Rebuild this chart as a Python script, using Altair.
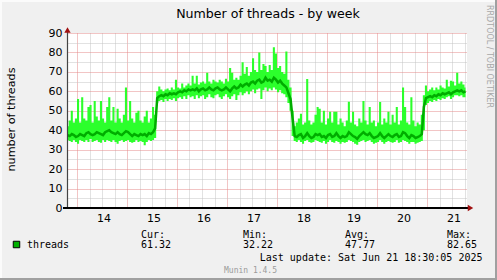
import altair as alt
import pandas as pd

# ---------------- data (hourly samples, first one Jun 13 19:30; hours counted from Jun 13 00:00)
first_hour = 19.5

avg_a = [37.5, 37, 38, 37.5, 36.5, 37, 38, 37.5, 37, 38.5,
         39, 38, 37.5, 38, 39, 38.5, 38, 37.5, 39, 39.5,
         40, 39, 38.5, 38, 39, 38, 37.5, 38.5, 39.5, 39,
         38, 37, 38, 37.5, 37, 38, 37.5, 38, 37, 38.5,
         38, 39, 41]
hi_a = [42, 45, 50, 44, 46, 56, 44, 57, 46, 45,
        52, 53, 44, 55, 47, 45, 55, 46, 44, 52,
        57, 45, 52, 44, 51, 46, 44, 48, 62, 45,
        55, 46, 44, 49, 50, 45, 44, 47, 50, 44,
        46, 52, 48]
lo_a = [35, 34.5, 34, 35, 34, 33, 35, 34.5, 34, 35,
        34, 35.5, 34, 34.5, 35, 34, 33.5, 35, 34, 35,
        34.5, 34, 35, 34, 33, 34.5, 35, 34, 34.5, 35,
        34, 33.5, 34, 35, 34, 34.5, 34, 32.22, 34, 35,
        34.5, 35, 36]

avg_b = [56.5, 57.5, 58, 57.5, 58.5, 58, 59, 58.5, 59, 58.5,
         59.5, 60, 59.5, 60.5, 60, 61, 60.5, 61, 60.5, 61.5,
         60, 61, 61.5, 60.5, 61, 62, 61, 60.5, 61.5, 62,
         61, 60.5, 61, 62, 61, 60, 61.5, 62.5, 61.5, 62,
         63.5, 62.5, 63.5, 64, 63, 64.5, 65, 64, 65.5, 66,
         64.5, 65, 67, 65.5, 66, 65, 67, 66, 64.5, 65.5,
         64, 63, 62, 59, 56, 46]
hi_b = [60, 62.5, 61, 60, 61, 61.5, 60.5, 62, 61, 66,
        62, 61.5, 64, 62, 63, 64, 63, 68, 64, 68,
        63.5, 64.5, 65, 64, 69.5, 65, 64, 66, 65, 64.5,
        66, 65, 64, 66.5, 65, 72, 69.5, 66, 67, 66,
        68, 75, 69, 72.5, 68, 70, 77, 71, 70, 80,
        71, 74, 73, 70, 73.5, 71, 82.65, 79.5, 72, 73,
        70, 69, 80.5, 66, 62, 50]
lo_b = [54, 55, 55.5, 54.5, 56, 55, 56, 55.5, 56.5, 55,
        56.5, 57, 56, 57.5, 56, 58, 57, 57.5, 56, 58,
        56.5, 57.5, 58, 56, 57, 58.5, 57, 56.5, 58, 58.5,
        57, 56, 57.5, 58.5, 57, 56, 57.5, 58.5, 55.5, 58,
        59.5, 58, 59, 60, 58.5, 60, 61, 59, 61, 61.5,
        56, 60.5, 62, 60, 61.5, 60.5, 62, 61, 59.5, 60.5,
        59, 58.5, 57, 54, 50, 37]

avg_c = [37, 36.5, 37.5, 38, 36, 37, 38.5, 37, 36, 36.5,
         38, 37.5, 38, 36.5, 37, 36, 37.5, 38, 36.5, 37,
         38.5, 37, 36, 37, 36.5, 37, 39, 38, 37, 36.5,
         35.5, 37, 38, 39, 38, 37.5, 38.5, 37, 36, 36.5,
         37, 38.5, 37, 36, 37, 38, 37, 36.5, 37.5, 38,
         36.5, 37, 39, 38.5, 37, 36, 37.5, 37, 36, 36.5,
         37, 38]
hi_c = [42, 44, 46, 48.5, 43, 44, 66.4, 45, 43, 44,
        48, 52, 51, 44, 50, 43, 46, 49.5, 44, 49.5,
        49.5, 43, 46, 44, 42, 45, 54.7, 44, 49.5, 43,
        42, 46, 44, 55, 45, 43, 52, 44, 45, 42,
        44, 54.5, 43, 46, 44, 49.5, 43, 48, 44, 52,
        43, 45, 62, 52, 44, 43, 57, 45, 42, 44,
        43, 48]
lo_c = [34.5, 34, 35, 34, 33, 34.5, 35, 34, 33.5, 34,
        35, 34.5, 34, 33.5, 34.5, 33, 34, 35, 34, 33.5,
        34.5, 34, 33, 34, 33.5, 34, 35, 34.5, 34, 33,
        32.5, 34, 34.5, 35, 34, 34.5, 35, 34, 33, 33.5,
        34, 35, 34, 33, 34, 34.5, 34, 33.5, 34, 35,
        33.5, 34, 35, 34.5, 34, 33, 34, 34, 33, 33.5,
        34, 34.5]

avg_d = [52, 56.5, 57, 57.5, 57, 58, 57.5, 58.5, 58, 59,
         58.5, 59, 59.5, 58.5, 59.5, 60, 60.5, 60, 60.5, 59.5, 60]
hi_d = [58, 63, 60, 61, 62, 60.5, 62, 61, 63, 62,
        61.5, 66, 62.5, 65.5, 65, 63, 69.5, 64, 65, 63.5, 62]
lo_d = [40, 53, 54, 55, 54.5, 55.5, 55, 56, 55.5, 56.5,
        56, 57, 57.5, 56, 57, 58, 58, 57.5, 58, 57, 57]

# axis / grid positions (hours since Jun 13 00:00)
x_domain = [19.2, 211.2]
x_grid_hours = list(range(24, 211, 6))      # every 6 h, midnight = major
y_grid_values = list(range(0, 91, 5))        # every 5, multiples of 10 = major

series_name = "threads"
stat_names = ["Cur:", "Min:", "Avg:", "Max:"]
stat_values = ["61.32", "32.22", "47.77", "82.65"]
last_update = "Last update: Sat Jun 21 18:30:05 2025"
title_text = "Number of threads - by week"
y_title = "number of threads"
side_text = "RRDTOOL / TOBI OETIKER"
footer_text = "Munin 1.4.5"

avg = avg_a + avg_b + avg_c + avg_d
hi = hi_a + hi_b + hi_c + hi_d
lo = lo_a + lo_b + lo_c + lo_d
n = min(len(avg), len(hi), len(lo))
df = pd.DataFrame({
    "hour": [first_hour + k for k in range(n)],
    "avg": avg[:n], "lo": lo[:n], "hi": hi[:n],
})

W, H = 400, 175
xs = alt.Scale(domain=x_domain, nice=False, zero=False)
ys = alt.Scale(domain=[0, 90], nice=False)

minor_col = "#c4c4c4"
major_col = "#e58a8a"

x_axis = alt.Axis(
    values=x_grid_hours,
    labelExpr="datum.value % 24 == 12 ? '' + (floor(datum.value/24) + 13) : ''",
    title=None, grid=True, gridDash=[1, 1], gridWidth=1,
    gridColor=alt.condition("datum.value % 24 == 0", alt.value(major_col), alt.value(minor_col)),
    ticks=False, domain=False, labelFont="DejaVu Sans", labelFontSize=11,
    labelColor="#000", labelPadding=4, labelOffset=1.5, labelFlush=False, labelOverlap=False)
y_axis = alt.Axis(
    values=y_grid_values,
    labelExpr="datum.value % 10 == 0 ? datum.label : ''",
    title=None, grid=True, gridDash=[1, 1], gridWidth=1,
    gridColor=alt.condition("datum.value % 10 == 0", alt.value(major_col), alt.value(minor_col)),
    ticks=False, domain=False, labelFont="DejaVu Sans", labelFontSize=11,
    labelColor="#000", labelPadding=5, labelOverlap=False, labelFlush=False)

band = alt.Chart(df).mark_area(interpolate="step", color="#2cff2c", clip=True).encode(
    x=alt.X("hour:Q", scale=xs, axis=x_axis),
    y=alt.Y("lo:Q", scale=ys, axis=y_axis),
    y2="hi:Q",
)
line = alt.Chart(df).mark_line(color="#00ad00", strokeWidth=2.5, clip=True).encode(
    x=alt.X("hour:Q", scale=xs, axis=x_axis), y=alt.Y("avg:Q", scale=ys, axis=y_axis)
)

one = pd.DataFrame({"k": [0]})

def txt(text, x, y, size=10, font="DejaVu Sans Mono", color="#000", align="left",
        baseline="alphabetic", angle=0):
    return alt.Chart(pd.DataFrame({"t": [text]})).mark_text(
        align=align, baseline=baseline, font=font, fontSize=size, color=color, angle=angle
    ).encode(text="t:N", x=alt.value(x), y=alt.value(y))

def rect(x, x2, y, y2, color):
    return alt.Chart(one).mark_rect(color=color).encode(
        x=alt.value(x), x2=alt.value(x2), y=alt.value(y), y2=alt.value(y2))

y_axis_line = alt.Chart(one).mark_rule(color="#444", strokeWidth=1.2).encode(
    x=alt.value(0.5), y=alt.value(-2), y2=alt.value(H))
x_axis_line = alt.Chart(one).mark_rule(color="#000", strokeWidth=2).encode(
    y=alt.value(H), x=alt.value(-4), x2=alt.value(W + 2))
arrow_up = alt.Chart(one).mark_point(shape="triangle-up", filled=True, size=40,
                                     color="#a01010", opacity=1).encode(
    x=alt.value(0.5), y=alt.value(-3))
arrow_right = alt.Chart(one).mark_point(shape="triangle-right", filled=True, size=40,
                                        color="#a01010", opacity=1).encode(
    x=alt.value(W + 3.5), y=alt.value(H))

legend_square = alt.Chart(one).mark_square(size=42, color="#00b000", stroke="#000",
                                           strokeWidth=1, filled=True, opacity=1).encode(
    x=alt.value(-50.5), y=alt.value(211.5))

texts = [
    txt(title_text, 201, -15, size=12.6, font="DejaVu Sans", align="center"),
    txt(y_title, -52, 86.5, size=11.2, font="DejaVu Sans", align="center", angle=270),
    txt(side_text, 422, 23.5, size=8, font="DejaVu Sans", color="#a8a8a8",
        align="center", baseline="middle", angle=90),
    txt(series_name, -40, 215),
    txt(last_update, 415.5, 228, align="right"),
    txt(footer_text, 183.5, 240, size=8, color="#9a9a9a", align="center"),
]
stat_x = [74, 176, 278, 380]
for name, val, sx in zip(stat_names, stat_values, stat_x):
    texts.append(txt(name, sx, 205))
    texts.append(txt(val, sx, 215))

borders = [
    rect(-67, 430, -33, -31, "#fbfbfb"),
    rect(-67, -65, -33, 247, "#fbfbfb"),
    rect(-67, 430, 245, 247, "#a0a0a0"),
    rect(428, 430, -33, 247, "#a0a0a0"),
]

chart = alt.layer(
    band, line, y_axis_line, x_axis_line, arrow_up, arrow_right, legend_square,
    *texts, *borders,
).properties(
    width=W, height=H, background="#f0f0f0",
    autosize=alt.AutoSizeParams(type="none"),
    padding={"left": 67, "top": 33, "right": 30, "bottom": 72},
).configure_view(fill="white", stroke=None)

chart.save("out.html", embed_options={"renderer": "svg", "actions": False})
